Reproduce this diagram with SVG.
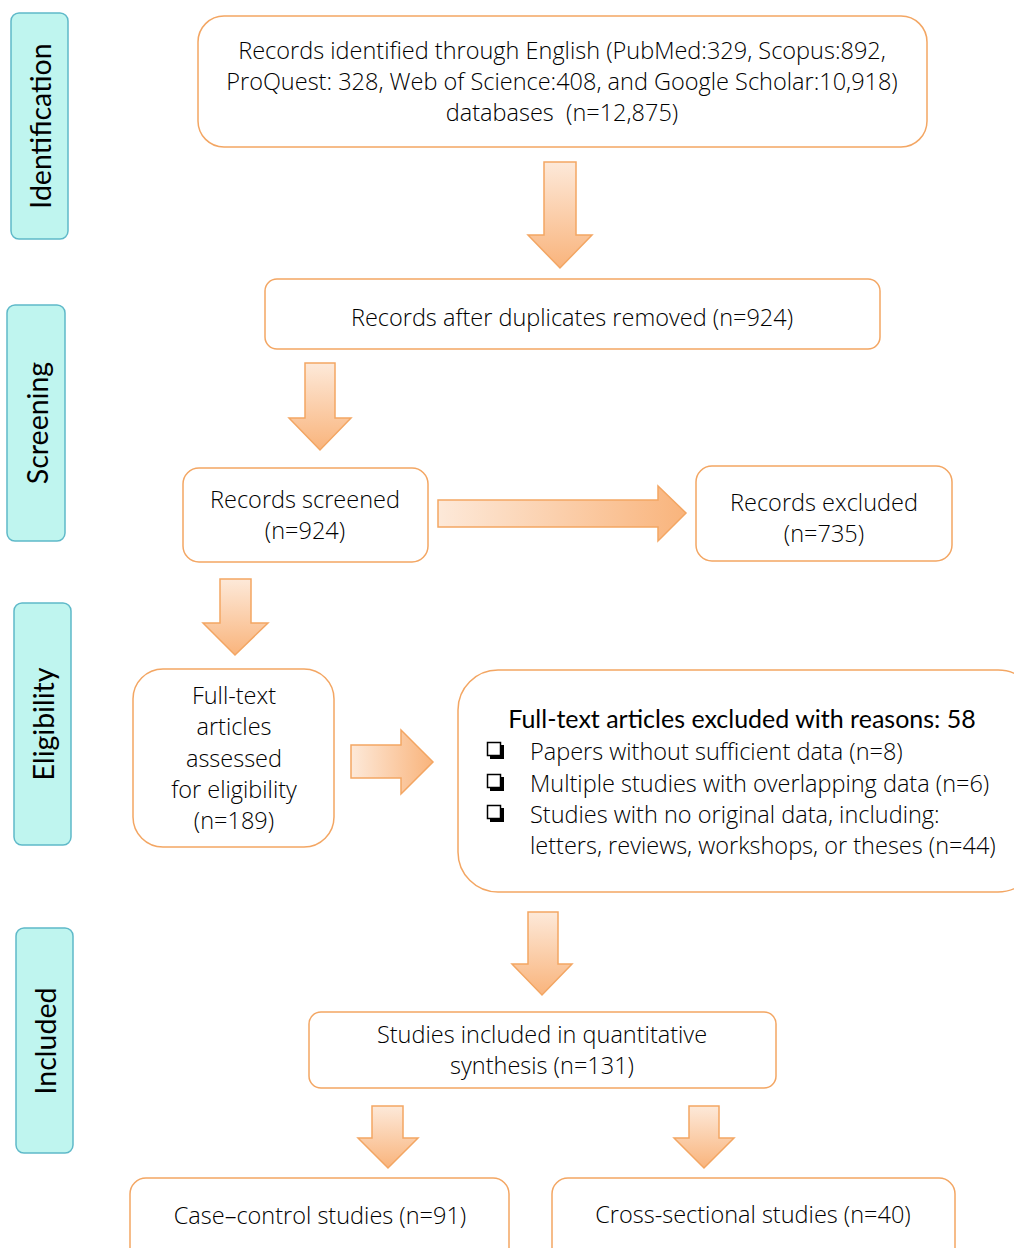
<svg xmlns="http://www.w3.org/2000/svg" width="1014" height="1248" viewBox="0 0 1014 1248">
<defs>
<linearGradient id="gv" x1="0" y1="0" x2="0" y2="1"><stop offset="0" stop-color="#fde9d9"/><stop offset="1" stop-color="#f9b47c"/></linearGradient>
<linearGradient id="gh" x1="0" y1="0" x2="1" y2="0"><stop offset="0" stop-color="#fde9d9"/><stop offset="1" stop-color="#f9b47c"/></linearGradient>
<style>
.stage{fill:#bff5ef;stroke:#5fb9c9;stroke-width:1.5}
.stxt{font-family:Lato,"Liberation Sans",sans-serif;font-size:28.5px;fill:#000;text-anchor:middle;dominant-baseline:central}
.box{fill:#fff;stroke:#f3a663;stroke-width:1.5}
.t{font-family:"Open Sans","Liberation Sans",sans-serif;font-size:23.5px;font-weight:300;fill:#000;text-anchor:middle}
.tl{font-family:"Open Sans","Liberation Sans",sans-serif;font-size:23.5px;font-weight:300;fill:#000}
.tb{font-family:Lato,"Liberation Sans",sans-serif;font-size:25px;font-weight:400;fill:#000;text-anchor:middle}
.av{fill:url(#gv);stroke:#f3a663;stroke-width:1.5}
.ah{fill:url(#gh);stroke:#f3a663;stroke-width:1.5}
.cb{fill:#fff;stroke:#000;stroke-width:1.5}
</style>
</defs>
<g id="stage-identification"><rect class="stage" x="11" y="13" width="57" height="226" rx="8"/><text class="stxt" transform="translate(40,126) rotate(-90)">Identification</text></g>
<g id="stage-screening"><rect class="stage" x="7" y="305" width="58" height="236" rx="8"/><text class="stxt" transform="translate(37,423) rotate(-90)">Screening</text></g>
<g id="stage-eligibility"><rect class="stage" x="14" y="603" width="57" height="242" rx="8"/><text class="stxt" transform="translate(43,724) rotate(-90)">Eligibility</text></g>
<g id="stage-included"><rect class="stage" x="16" y="928" width="57" height="225" rx="8"/><text class="stxt" transform="translate(45,1041) rotate(-90)">Included</text></g>

<g id="connectors">
<path class="av" d="M544,162 H576 V235 H592 L560,268 L528,235 H544 Z"/>
<path class="av" d="M305,363 H335 V418 H351 L320,450 L289,418 H305 Z"/>
<path class="ah" d="M438,500 H658 V486 L686,513 L658,541 V527 H438 Z"/>
<path class="av" d="M220,579 H251 V623 H268 L235,655 L203,623 H220 Z"/>
<path class="ah" d="M351,745 H401 V730 L433,762 L401,794 V778 H351 Z"/>
<path class="av" d="M528,912 H558 V964 H572 L542,995 L512,964 H528 Z"/>
<path class="av" d="M372,1106 H403 V1138 H418 L388,1168 L358,1138 H372 Z"/>
<path class="av" d="M689,1106 H719 V1138 H734 L704,1168 L674,1138 H689 Z"/>
</g>

<g id="n-identified"><rect class="box" x="198" y="16" width="729" height="131" rx="26"/>
<text class="t" x="562" y="59">Records identified through English (PubMed:329, Scopus:892,</text>
<text class="t" x="562" y="90">ProQuest: 328, Web of Science:408, and Google Scholar:10,918)</text>
<text class="t" x="562" y="121">databases&#160; (n=12,875)</text></g>

<g id="n-duplicates"><rect class="box" x="265" y="279" width="615" height="70" rx="12"/>
<text class="t" x="572" y="326">Records after duplicates removed (n=924)</text></g>

<g id="n-screened"><rect class="box" x="183" y="468" width="245" height="94" rx="16"/>
<text class="t" x="305" y="508">Records screened</text>
<text class="t" x="305" y="539">(n=924)</text></g>

<g id="n-excluded"><rect class="box" x="696" y="466" width="256" height="95" rx="16"/>
<text class="t" x="824" y="511">Records excluded</text>
<text class="t" x="824" y="542">(n=735)</text></g>

<g id="n-fulltext"><rect class="box" x="133" y="669" width="201" height="178" rx="30"/>
<text class="t" x="234" y="704">Full-text</text>
<text class="t" x="234" y="735">articles</text>
<text class="t" x="234" y="767">assessed</text>
<text class="t" x="234" y="798">for eligibility</text>
<text class="t" x="234" y="829">(n=189)</text></g>

<g id="n-reasons"><rect class="box" x="458" y="670" width="580" height="222" rx="40"/>
<text class="tb" x="742" y="728">Full-text articles excluded with reasons: 58</text>
<rect x="490" y="745" width="14" height="14" fill="#000"/><rect class="cb" x="487.5" y="742.5" width="13" height="13"/>
<text class="tl" x="530" y="760">Papers without sufficient data (n=8)</text>
<rect x="490" y="777" width="14" height="14" fill="#000"/><rect class="cb" x="487.5" y="774.5" width="13" height="13"/>
<text class="tl" x="530" y="792">Multiple studies with overlapping data (n=6)</text>
<rect x="490" y="808" width="14" height="14" fill="#000"/><rect class="cb" x="487.5" y="805.5" width="13" height="13"/>
<text class="tl" x="530" y="823">Studies with no original data, including:</text>
<text class="tl" x="530" y="854">letters, reviews, workshops, or theses (n=44)</text></g>

<g id="n-included"><rect class="box" x="309" y="1012" width="467" height="76" rx="12"/>
<text class="t" x="542" y="1043">Studies included in quantitative</text>
<text class="t" x="542" y="1074">synthesis (n=131)</text></g>

<g id="n-casecontrol"><rect class="box" x="130" y="1178" width="379" height="90" rx="16"/>
<text class="t" x="320" y="1224">Case–control studies (n=91)</text></g>

<g id="n-crosssectional"><rect class="box" x="552" y="1178" width="403" height="90" rx="16"/>
<text class="t" x="753" y="1223">Cross-sectional studies (n=40)</text></g>
</svg>
